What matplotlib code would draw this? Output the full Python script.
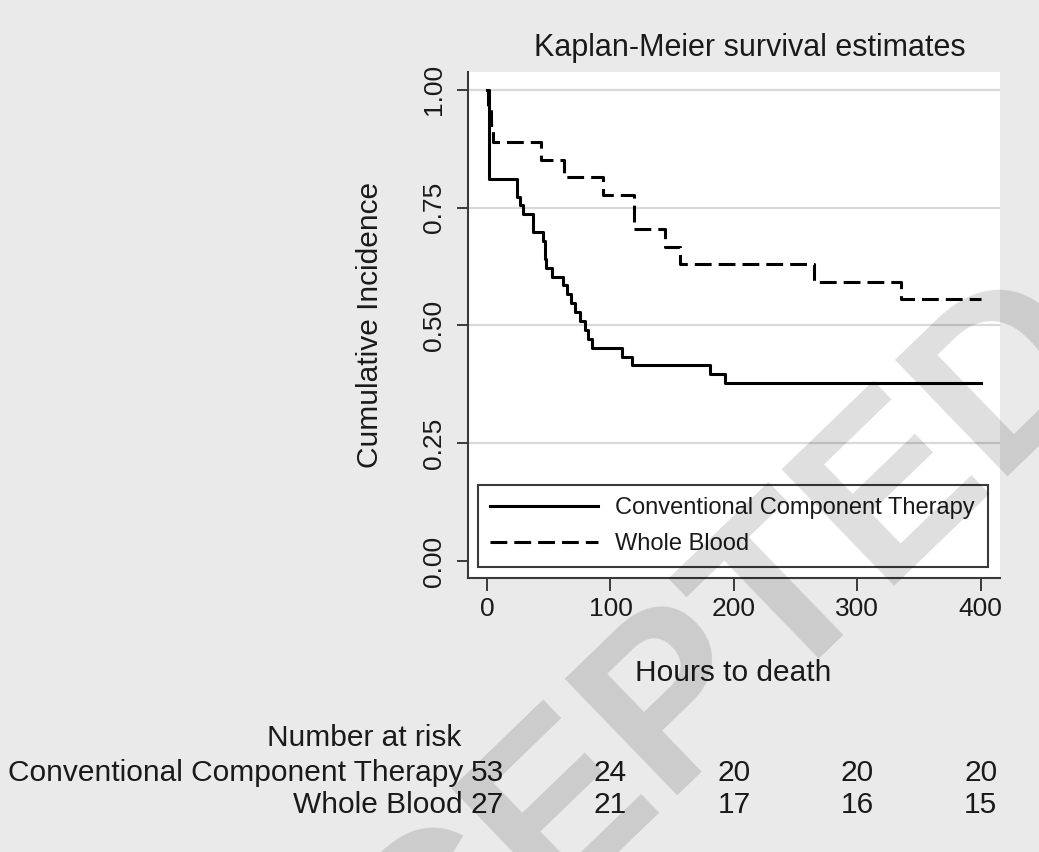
import numpy as np
import matplotlib.pyplot as plt
from matplotlib.transforms import blended_transform_factory

plt.rcParams['font.family'] = ['Liberation Sans', 'DejaVu Sans']

# Kaplan-Meier steps (hours, patients still alive)
cct_n = 53
cct_time = [0, 2, 24, 27, 29.5, 37, 45.5, 47, 48, 53, 61.5, 64.5, 68, 71.5, 75, 79, 82, 85, 109, 117.5, 180.5, 192.5, 400]
cct_alive = [53, 43, 41, 40, 39, 37, 36, 34, 33, 32, 31, 30, 29, 28, 27, 26, 25, 24, 23, 22, 21, 20, 20]

wb_n = 27
wb_time = [0, 1, 3, 5, 44, 62, 94, 119, 144, 156.5, 265, 335.5, 400]
wb_alive = [27, 26, 25, 24, 23, 22, 21, 19, 18, 17, 16, 15, 15]

# number at risk table
risk_ticks = [0, 100, 200, 300, 400]
risk_cct = [53, 24, 20, 20, 20]
risk_wb = [27, 21, 17, 16, 15]

group_labels = ['Conventional Component Therapy', 'Whole Blood']

W, H = 1039, 852
bg = '#eaeaea'
dark = '#1a1a1a'
axcol = '#3a3a3a'


def fx(px):
    return px / W


def fy(py):
    return 1 - py / H


fig = plt.figure(figsize=(W / 100, H / 100), dpi=100, facecolor=bg)
ax = fig.add_axes([fx(468), fy(578), (1000 - 468) / W, (578 - 72) / H])
ax.set_facecolor('white')
ax.set_xlim(-15.4, 415.6)
ax.set_ylim(-0.036, 1.038)

for g in [0.25, 0.5, 0.75, 1.0]:
    ax.axhline(g, color='#d9d9d9', lw=1.6, zorder=0)

cct_surv = np.array(cct_alive) / cct_n
wb_surv = np.array(wb_alive) / wb_n
ax.step(cct_time, cct_surv, where='post', color='black', lw=2.2, label=group_labels[0])
ax.step(wb_time, wb_surv, where='post', color='black', lw=2.2, dashes=(5.5, 2.3), label=group_labels[1])

for s in ['top', 'right']:
    ax.spines[s].set_visible(False)
for s in ['left', 'bottom']:
    ax.spines[s].set_color(axcol)
    ax.spines[s].set_linewidth(1.5)

ax.set_xticks(risk_ticks)
ax.set_xticklabels([str(t) for t in risk_ticks])
ax.set_yticks([0, 0.25, 0.5, 0.75, 1.0])
ax.set_yticklabels(['0.00', '0.25', '0.50', '0.75', '1.00'])
ax.tick_params(axis='both', direction='out', color=axcol, width=1.4,
               labelsize=19, labelcolor=dark)
ax.tick_params(axis='x', length=9, pad=5)
ax.tick_params(axis='y', length=8, pad=8, labelrotation=90)
for lab in ax.get_yticklabels():
    lab.set_va('center')

leg = ax.legend(loc='lower left', bbox_to_anchor=(0.0188, 0.0217, 0.9586, 0.186),
                mode='expand', borderaxespad=0, fontsize=17, handlelength=4.6,
                handletextpad=0.7, labelspacing=0.6, borderpad=0.5,
                fancybox=False, framealpha=1, edgecolor=axcol)
leg.get_frame().set_linewidth(1.5)
for t in leg.get_texts():
    t.set_color(dark)

fig.text(fx(750), fy(48), 'Kaplan-Meier survival estimates', fontsize=22,
         color=dark, ha='center', va='center')
fig.text(fx(370), fy(325), 'Cumulative Incidence', fontsize=21.5, color=dark,
         rotation=90, ha='center', va='center')
fig.text(fx(733), fy(673), 'Hours to death', fontsize=21.5, color=dark,
         ha='center', va='center')

# number at risk
tr = blended_transform_factory(ax.transData, fig.transFigure)
fig.text(fx(461), fy(738), 'Number at risk', fontsize=21.5, color=dark,
         ha='right', va='center')
for row_y, lab, vals in [(773, group_labels[0], risk_cct), (805, group_labels[1], risk_wb)]:
    fig.text(fx(463), fy(row_y), lab, fontsize=21.5, color=dark, ha='right', va='center')
    for t, v in zip(risk_ticks, vals):
        ax.text(t, fy(row_y), str(v), transform=tr, fontsize=21.5, color=dark,
                ha='center', va='center', clip_on=False)

# watermark
fig.text(fx(608), fy(772), 'ACCEPTED', fontsize=170, fontweight='bold',
         rotation=44, rotation_mode='anchor', color='black', alpha=0.13,
         ha='center', va='center', zorder=10)

fig.savefig('out.png', dpi=100, facecolor=fig.get_facecolor())
